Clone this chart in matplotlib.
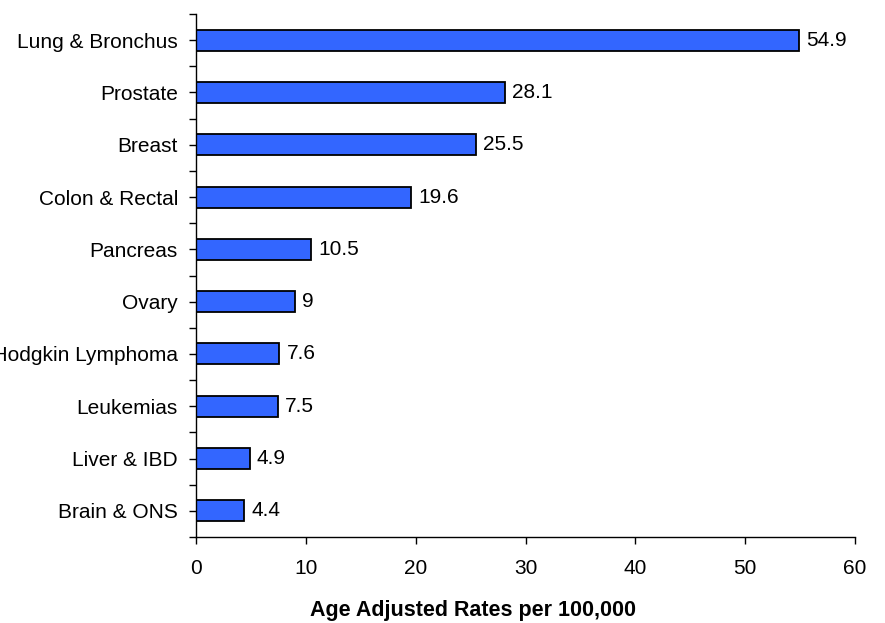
import numpy as np
import matplotlib
matplotlib.use("Agg")
from matplotlib import pyplot as plt
from matplotlib.ticker import MultipleLocator

# cancer sites and age adjusted rates (per 100,000)
sites = ["Lung & Bronchus", "Prostate", "Breast", "Colon & Rectal", "Pancreas",
         "Ovary", "Non-Hodgkin Lymphoma", "Leukemias", "Liver & IBD", "Brain & ONS"]
rates = [54.9, 28.1, 25.5, 19.6, 10.5, 9, 7.6, 7.5, 4.9, 4.4]
rate_labels = ["54.9", "28.1", "25.5", "19.6", "10.5", "9", "7.6", "7.5", "4.9", "4.4"]
x_ticks = [0, 10, 20, 30, 40, 50, 60]

plt.rcParams["font.family"] = ["Liberation Sans", "DejaVu Sans"]

fig = plt.figure(figsize=(8.85, 6.23), dpi=100)
ax = fig.add_axes([196 / 885, 1 - 537 / 623, 659 / 885, 523 / 623])

y = np.arange(len(sites))
ax.barh(y, rates, height=0.4, color="#3366FF", edgecolor="black", linewidth=1.3)

# value labels at the bar ends
for yi, r, lab in zip(y, rates, rate_labels):
    ax.annotate(lab, (r, yi), xytext=(5, 0), textcoords="offset points",
                va="center", ha="left", fontsize=15)

ax.set_ylim(len(sites) - 0.5, -0.5)
ax.set_xlim(0, 60)
ax.set_yticks(y)
ax.set_yticklabels(sites, fontsize=15)
ax.yaxis.set_minor_locator(MultipleLocator(1, offset=0.5))
ax.set_xticks(x_ticks)
ax.set_xticklabels([str(t) for t in x_ticks], fontsize=15)

ax.tick_params(axis="y", which="both", direction="out", length=5, width=1, pad=8)
ax.tick_params(axis="x", which="major", direction="out", length=5, width=1, pad=11)

for side in ["top", "right"]:
    ax.spines[side].set_visible(False)
ax.spines["left"].set_linewidth(1)
ax.spines["bottom"].set_linewidth(1)

ax.set_xlabel("Age Adjusted Rates per 100,000", fontsize=15.5, fontweight="bold")
ax.xaxis.set_label_coords(0.42, -0.12)

fig.savefig("out.png", dpi=100)
